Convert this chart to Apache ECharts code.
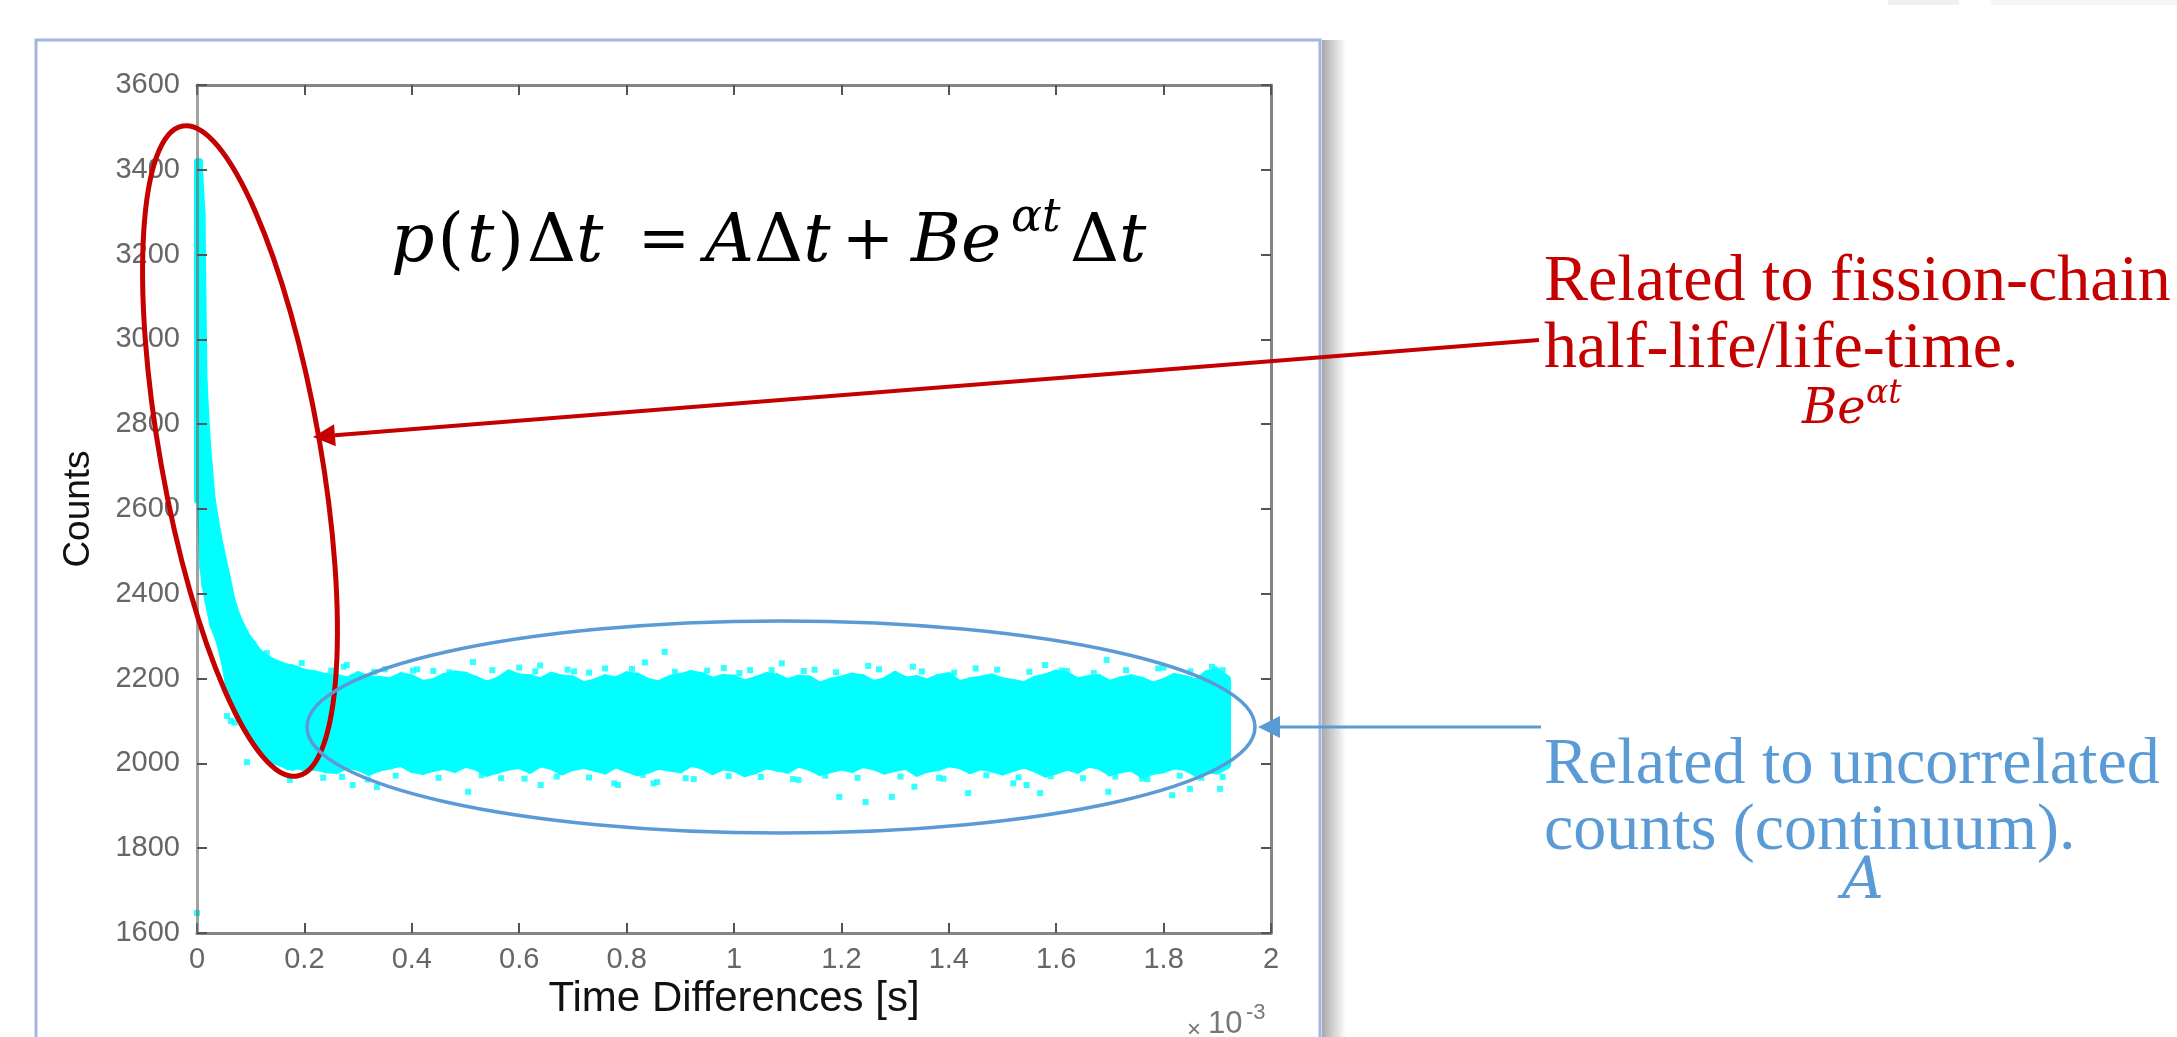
<!DOCTYPE html>
<html><head><meta charset="utf-8">
<script src="https://cdn.jsdelivr.net/npm/echarts/dist/echarts.min.js"></script>
<style>html,body{margin:0;padding:0;background:#fff;}#c{width:2177px;height:1037px;}</style>
</head><body><div id="c"></div>
<script>
// ---------- data ----------
const xTickLabels = ['0','0.2','0.4','0.6','0.8','1','1.2','1.4','1.6','1.8','2'];
const yTickLabels = ['1600','1800','2000','2200','2400','2600','2800','3000','3200','3400','3600'];

// dense band of counts: time (x10^-3 s), upper and lower edge of the cloud
const bandTimeMs = [0,0.005,0.010,0.014,0.020,0.029,0.040,0.050,0.057,0.066,0.075,0.085,0.094,0.105,0.113,0.126,0.140,0.155,0.169,0.178,0.190,0.200,
 0.22,0.24,0.26,0.28,0.30,0.32,0.34,0.36,0.38,0.40,0.42,0.44,0.46,0.48,0.50,0.52,0.54,0.56,0.58,0.60,
 0.62,0.64,0.66,0.68,0.70,0.72,0.74,0.76,0.78,0.80,0.82,0.84,0.86,0.88,0.90,0.92,0.94,0.96,0.98,1.00,
 1.02,1.04,1.06,1.08,1.10,1.12,1.14,1.16,1.18,1.20,1.22,1.24,1.26,1.28,1.30,1.32,1.34,1.36,1.38,1.40,
 1.42,1.44,1.46,1.48,1.50,1.52,1.54,1.56,1.58,1.60,1.62,1.64,1.66,1.68,1.70,1.72,1.74,1.76,1.78,1.80,
 1.82,1.84,1.86,1.88,1.90,1.92];
const bandUpper = [3420,3420,3300,2900,2760,2625,2540,2480,2440,2385,2350,2322,2300,2282,2267,2252,2242,2234,2228,2226,2221,2216,
 2212,2206,2204,2198,2210,2201,2199,2196,2208,2203,
 2190,2194,2206,2212,2209,2199,2188,2197,2214,2205,
 2203,2196,2209,2202,2200,2187,2193,2203,2198,2210,
 2207,2194,2189,2201,2206,2213,2208,2197,2204,2202,
 2191,2199,2208,2205,2194,2202,2200,2186,2195,2200,
 2207,2203,2190,2196,2211,2198,2201,2193,2204,2208,
 2189,2196,2200,2205,2196,2192,2187,2199,2205,2214,
 2209,2196,2201,2203,2190,2198,2203,2197,2186,2194,
 2206,2201,2193,2212,2218,2200];
const bandLower = [2620,2621,2463,2420,2380,2325,2290,2240,2190,2150,2110,2090,2071,2050,2035,2015,2006,2000,1992,1990,1993,1988,
 1990,1984,1982,1995,1989,1978,1988,1993,1999,1985,
 1980,1987,1992,1985,1997,1990,1976,1983,1990,1994,
 1983,1998,1992,1979,1989,1994,1988,1981,1996,1986,
 1977,1983,1992,1988,1984,1999,1993,1980,1991,1987,
 1975,1982,1993,1988,1983,1997,1990,1978,1984,1990,
 1985,1996,1991,1981,1987,1992,1976,1985,1989,1998,
 1994,1982,1991,1986,1979,1987,1995,1986,1974,1981,
 1990,1983,1997,1992,1977,1984,1988,1972,1980,1984,
 1993,1989,1976,1984,1981,1995];

// isolated points outside the dense band
const outlierTimeMs = [0,0.056,0.063,0.070,0.093,0.130,0.195,0.173,0.235,0.273,0.279,0.290,0.335,0.350,0.440,0.505,0.514,0.600,0.639,0.640,
 0.760,0.777,0.784,0.834,0.850,0.857,0.871,0.981,1.089,1.150,1.196,1.245,1.250,1.294,1.333,1.336,1.436,1.450,1.520,1.545,
 1.570,1.579,1.694,1.697,1.800,1.816,1.849,1.896,1.905,1.910,0.318,0.402,0.566,0.702,0.925,1.030,1.120,1.382,1.620,1.760,
 0.25,0.33,0.41,0.47,0.55,0.63,0.69,0.73,0.81,0.89,0.95,1.01,1.07,1.13,1.19,1.27,1.35,1.41,1.49,1.55,1.61,1.67,1.73,1.79,1.85,1.89,
 0.27,0.37,0.45,0.53,0.61,0.67,0.73,0.83,0.91,0.99,1.05,1.11,1.17,1.23,1.31,1.39,1.47,1.53,1.59,1.65,1.71,1.77,1.83,1.87,1.91];
const outlierCounts = [1647,2112,2100,2096,2003,2260,2237,1961,1966,2228,2232,1949,1944,2222,2218,1933,2239,2226,2231,1949,
 2224,1953,1949,2238,1953,1956,2263,2225,2236,2221,1921,1909,2230,1921,2228,1945,1930,2224,1953,1949,
 1930,2232,2244,1933,2226,1925,1940,2222,1940,2220,1962,2219,1965,2217,1963,2220,1961,1966,2218,1964,
 2219,2216,2222,2215,2220,2217,2221,2214,2223,2216,2219,2213,2220,2218,2215,2222,2217,2214,2221,2216,2219,2213,2220,2224,2217,2228,
 1968,1971,1966,1972,1964,1969,1967,1973,1965,1970,1968,1963,1971,1966,1969,1964,1972,1967,1970,1965,1969,1963,1971,1966,1968];

// ---------- chart ----------
const chart = echarts.init(document.getElementById('c'));
const G = {left:197, top:85, right:906, bottom:104};
const tickFont = 'Liberation Sans, Arial, sans-serif';
const mathFont = 'DejaVu Serif, serif';
const red='#c40000', blue='#5b9bd5';

function arrow(x0,y0,x1,y1,color,lw,hl,hw){
  const dx=x1-x0, dy=y1-y0, L=Math.hypot(dx,dy), ux=dx/L, uy=dy/L;
  const bx=x1-ux*hl, by=y1-uy*hl, nx=-uy, ny=ux;
  return [
    {type:'line', z:60, shape:{x1:x0,y1:y0,x2:bx,y2:by}, style:{stroke:color,lineWidth:lw}},
    {type:'polygon', z:60, shape:{points:[[x1,y1],[bx+nx*hw,by+ny*hw],[bx-nx*hw,by-ny*hw]]}, style:{fill:color}}
  ];
}
function txt(text,x,y,font,fill,align){
  return {type:'text', z:60, style:{text:text,x:x,y:y,font:font,fill:fill,align:align||'left',verticalAlign:'middle',textAlign:align||'left',textVerticalAlign:'middle'}};
}
function mathTxt(text,x,y,size,fill){
  return {type:'text', z:60, style:{text:text,x:x,y:y,align:'left',verticalAlign:'middle',
    rich:{i:{fontFamily:mathFont,fontStyle:'italic',fontSize:size,fill:fill},
          r:{fontFamily:mathFont,fontSize:size,fill:fill},
          pr:{fontFamily:mathFont,fontSize:size,fill:fill,padding:[0,3,0,3]}}}};
}

const FS = 68, FY = 243;
const graphics = [
  // figure window frame
  {type:'rect', z:1, shape:{x:36,y:40,width:1284,height:1100}, style:{fill:'none',stroke:'#a4b5e2',lineWidth:3}},
  {type:'rect', z:1, shape:{x:1322,y:40,width:24,height:1000}, style:{fill:new echarts.graphic.LinearGradient(0,0,1,0,[{offset:0,color:'#a9a9a9'},{offset:1,color:'#ffffff'}])}},
  {type:'rect', z:1, shape:{x:1888,y:0,width:71,height:5}, style:{fill:'#f2f0ee'}},
  {type:'rect', z:1, shape:{x:1991,y:0,width:186,height:5}, style:{fill:'#f7f6f4'}},
  // ellipses
  {type:'ellipse', z:55, x:240, y:451, rotation:10*Math.PI/180, shape:{cx:0,cy:0,rx:80,ry:330}, style:{fill:'none',stroke:red,lineWidth:5}},
  {type:'ellipse', z:55, x:781, y:727, shape:{cx:0,cy:0,rx:474,ry:106}, style:{fill:'none',stroke:blue,lineWidth:3.5}},
  ...arrow(1539,340,313,437,red,4,22,11),
  ...arrow(1541,727,1258,727,blue,3,22,11),
  // formula
  mathTxt('{i|p}{pr|(}{i|t}{pr|)}{r|Δ}{i|t}',391,FY,FS,'#000'),
  mathTxt('{r|=}',638,FY,62,'#000'),
  mathTxt('{i|A}{r|Δ}{i|t}',705,FY,FS,'#000'),
  mathTxt('{r|+}',842,FY,62,'#000'),
  mathTxt('{i|Be}',911,FY,FS,'#000'),
  mathTxt('{i|αt}',1011,FY-24,46,'#000'),
  mathTxt('{r|Δ}{i|t}',1070,FY,FS,'#000'),
  // red annotation
  txt('Related to fission-chain',1544,283,'66px Liberation Serif, serif',red),
  txt('half-life/life-time.',1544,350,'66px Liberation Serif, serif',red),
  mathTxt('{i|Be}',1802,411,48,red),
  mathTxt('{i|αt}',1866,394,33,red),
  // blue annotation
  txt('Related to uncorrelated',1544,766,'66px Liberation Serif, serif',blue),
  txt('counts (continuum).',1544,832,'66px Liberation Serif, serif',blue),
  txt('A',1863,883,'italic 58px '+mathFont,blue,'center'),
  // exponent label
  txt('×',1187,1030,'24px '+tickFont,'#777'),
  txt('10',1208,1024,'31px '+tickFont,'#777'),
  txt('-3',1246,1013,'22px '+tickFont,'#777')
];

function axisLine(c){ return {show:true, onZero:false, lineStyle:{color:c||'#858585', width:3}}; }
function ticks(){ return {show:true, inside:true, length:10, lineStyle:{color:'#555', width:2}}; }

chart.setOption({
  backgroundColor:'#fff',
  animation:false,
  grid:G,
  xAxis:[
    {type:'value', position:'bottom', min:0, max:2, interval:0.2,
     axisLine:axisLine(), axisTick:ticks(), splitLine:{show:false},
     axisLabel:{fontSize:29, color:'#666', margin:12, fontFamily:tickFont, formatter:v=>xTickLabels[Math.round(v/0.2)]},
     name:'Time Differences [s]', nameLocation:'middle', nameGap:45,
     nameTextStyle:{fontSize:42, color:'#111', fontFamily:tickFont}},
    {type:'value', position:'top', min:0, max:2, interval:0.2,
     axisLine:axisLine(), axisTick:ticks(), splitLine:{show:false}, axisLabel:{show:false}}
  ],
  yAxis:[
    {type:'value', position:'left', min:1600, max:3600, interval:200, z:5,
     axisLine:axisLine('rgba(110,110,110,0.65)'), axisTick:ticks(), splitLine:{show:false},
     axisLabel:{fontSize:29, color:'#666', margin:17, fontFamily:tickFont, formatter:v=>yTickLabels[Math.round((v-1600)/200)]},
     name:'Counts', nameLocation:'middle', nameGap:100, nameRotate:90,
     nameTextStyle:{fontSize:37, color:'#111', fontFamily:tickFont}},
    {type:'value', position:'right', min:1600, max:3600, interval:200,
     axisLine:axisLine(), axisTick:ticks(), splitLine:{show:false}, axisLabel:{show:false}}
  ],
  series:[
    {type:'custom', name:'band', xAxisIndex:0, yAxisIndex:0, clip:false, z:2,
     data: bandTimeMs.map((t,i)=>[t,bandUpper[i],bandLower[i]]),
     encode:{x:0, y:[1,2]},
     renderItem:function(params, api){
       const i = params.dataIndex;
       if (i >= bandTimeMs.length-1) return {type:'group', children:[]};
       const a = api.coord([api.value(0), api.value(1)]);
       const b = api.coord([bandTimeMs[i+1], bandUpper[i+1]]);
       const c = api.coord([bandTimeMs[i+1], bandLower[i+1]]);
       const d = api.coord([api.value(0), api.value(2)]);
       return {type:'polygon', shape:{points:[a,b,c,d]}, style:{fill:'#00ffff', stroke:'#00ffff', lineWidth:6, lineJoin:'round'}};
     }},
    {type:'scatter', name:'outliers', xAxisIndex:0, yAxisIndex:0, symbol:'rect', symbolSize:6, clip:false,
     itemStyle:{color:'#00ffff'},
     data: outlierTimeMs.map((t,i)=>[t,outlierCounts[i]])}
  ],
  graphic:{elements:graphics}
});
</script></body></html>
